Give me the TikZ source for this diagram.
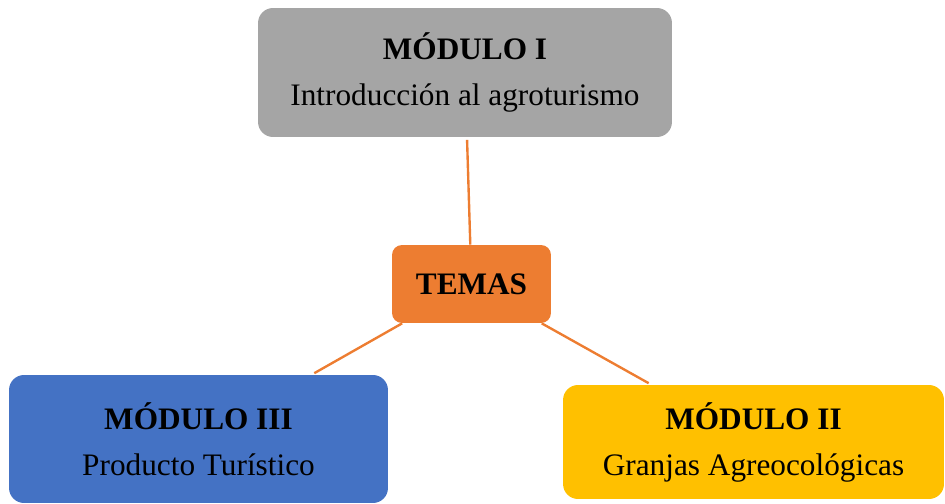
\documentclass[tikz,border=0pt]{standalone}
\usepackage{fontspec}
\setmainfont{Liberation Serif}
\usetikzlibrary{positioning}
\definecolor{modgray}{HTML}{A5A5A5}
\definecolor{modorange}{HTML}{ED7D31}
\definecolor{modblue}{HTML}{4472C4}
\definecolor{modyellow}{HTML}{FFC000}
\tikzset{
    modbox/.style={rectangle, rounded corners=0.3cm, inner sep=0pt, align=center,
        font=\fontsize{17.8}{26.2}\selectfont, text=black},
    link/.style={draw=modorange, line width=1.35pt}
}

\begin{document}
\begin{tikzpicture}[x=0.02cm, y=-0.02cm]
    \useasboundingbox (0,0) rectangle (945,503);
    \node[modbox, fill=modgray, minimum width=8.28cm, minimum height=2.58cm] (m1) at (465,72.5)
        {\textbf{MÓDULO I}\\Introducción al agroturismo};
    \node[modbox, fill=modorange, rounded corners=0.2cm, minimum width=3.18cm, minimum height=1.56cm] (temas) at (471.5,284)
        {\textbf{TEMAS}};
    \node[modbox, fill=modblue, minimum width=7.58cm, minimum height=2.56cm] (m3) at (198.5,439)
        {\textbf{MÓDULO III}\\Producto Turístico};
    \node[modbox, fill=modyellow, minimum width=7.62cm, minimum height=2.28cm] (m2) at (753.5,442)
        {\textbf{MÓDULO II}\\Granjas Agreocológicas};
    % connectors
    \draw[link, shorten <=0.05cm] (m1) -- (temas);
    \draw[link, shorten >=0.06cm] (temas) -- (m3);
    \draw[link, shorten >=0.06cm] (temas) -- (m2);
\end{tikzpicture}
\end{document}
